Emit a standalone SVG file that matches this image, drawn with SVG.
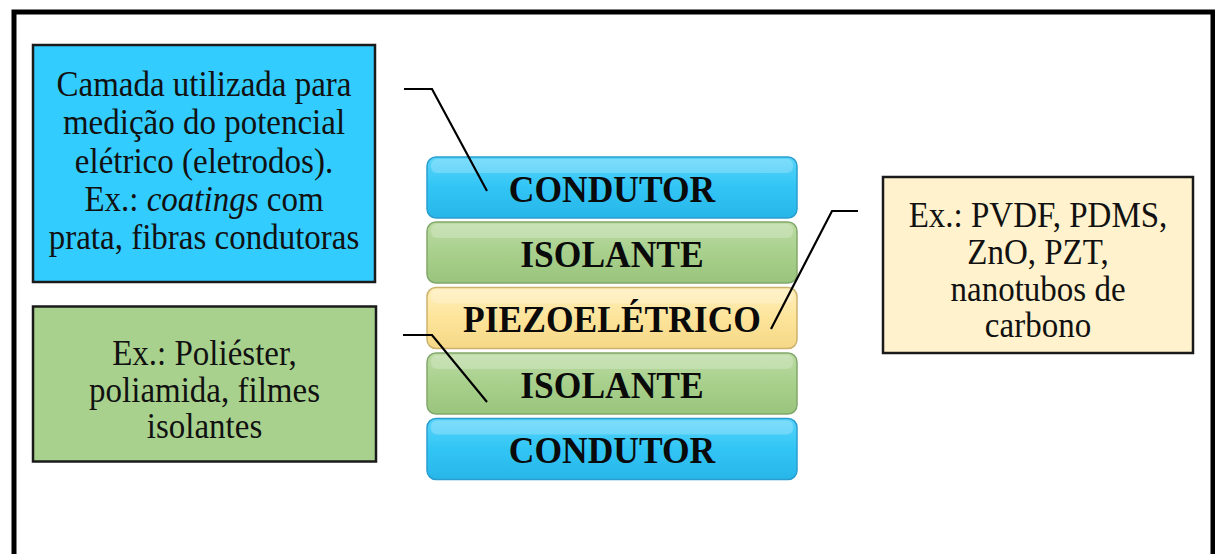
<svg xmlns="http://www.w3.org/2000/svg" width="1215" height="554" viewBox="0 0 1215 554">
<defs>
<style>
.box{stroke:#1a1a1a;stroke-width:2.5}
.t{font-family:"Liberation Serif","Times New Roman",serif;font-size:33px;fill:#111;text-anchor:middle}
.lt{font-family:"Liberation Serif","Times New Roman",serif;font-size:35.5px;font-weight:bold;fill:#0a0a0a;text-anchor:middle}
.lead{fill:none;stroke:#000;stroke-width:2.2}
.hl{fill:#fff;opacity:0.22}
</style>
<linearGradient id="gBlue" x1="0" y1="0" x2="0" y2="1">
<stop offset="0" stop-color="#5ad4fb"/>
<stop offset="0.5" stop-color="#31c5f5"/>
<stop offset="1" stop-color="#28b6e8"/>
</linearGradient>
<linearGradient id="gGreen" x1="0" y1="0" x2="0" y2="1">
<stop offset="0" stop-color="#bcdba4"/>
<stop offset="0.5" stop-color="#a8d08c"/>
<stop offset="1" stop-color="#9ac57e"/>
</linearGradient>
<linearGradient id="gYellow" x1="0" y1="0" x2="0" y2="1">
<stop offset="0" stop-color="#ffefbc"/>
<stop offset="0.5" stop-color="#fde49a"/>
<stop offset="1" stop-color="#f5d887"/>
</linearGradient>
</defs>
<rect width="1215" height="554" fill="#fff"/>
<path d="M14 560 V12 H1213 V560" fill="none" stroke="#000" stroke-width="5"/>

<g id="info-condutor">
<rect class="box" x="33" y="45" width="342" height="237" fill="#33ccff"/>
<text class="t" transform="translate(204 96) scale(1 1.06)">Camada utilizada para</text>
<text class="t" transform="translate(204 134.3) scale(1 1.06)">medição do potencial</text>
<text class="t" transform="translate(204 172.7) scale(1 1.06)">elétrico (eletrodos).</text>
<text class="t" transform="translate(204 211) scale(1 1.06)">Ex.: <tspan font-style="italic">coatings</tspan> com</text>
<text class="t" transform="translate(204 249.3) scale(1 1.06)">prata, fibras condutoras</text>
</g>

<g id="info-isolante">
<rect class="box" x="33" y="306.5" width="343" height="155" fill="#a9d18e"/>
<text class="t" transform="translate(204.5 365) scale(1 1.06)">Ex.: Poliéster,</text>
<text class="t" transform="translate(204.5 401.5) scale(1 1.06)">poliamida, filmes</text>
<text class="t" transform="translate(204.5 438) scale(1 1.06)">isolantes</text>
</g>

<g id="info-piezo">
<rect class="box" x="883" y="177" width="310" height="176" fill="#fff2cc"/>
<text class="t" transform="translate(1038 227) scale(1 1.06)">Ex.: PVDF, PDMS,</text>
<text class="t" transform="translate(1038 264) scale(1 1.06)">ZnO, PZT,</text>
<text class="t" transform="translate(1038 300.5) scale(1 1.06)">nanotubos de</text>
<text class="t" transform="translate(1038 337) scale(1 1.06)">carbono</text>
</g>

<g id="layer-condutor-top">
<rect x="427" y="157" width="370" height="61" rx="9" fill="url(#gBlue)" stroke="#2a9fcf" stroke-width="1.5"/>
<rect class="hl" x="431" y="159" width="362" height="14" rx="6"/>
<text class="lt" transform="translate(612 201.5) scale(1 1.07)">CONDUTOR</text>
</g>
<g id="layer-isolante-top">
<rect x="427" y="222" width="370" height="61" rx="9" fill="url(#gGreen)" stroke="#83a86c" stroke-width="1.5"/>
<rect class="hl" x="431" y="224" width="362" height="14" rx="6"/>
<text class="lt" transform="translate(612 266.5) scale(1 1.07)">ISOLANTE</text>
</g>
<g id="layer-piezo">
<rect x="427" y="287.5" width="370" height="61" rx="9" fill="url(#gYellow)" stroke="#cdb26c" stroke-width="1.5"/>
<rect class="hl" x="431" y="289.5" width="362" height="14" rx="6"/>
<text class="lt" transform="translate(612 332) scale(1 1.07)">PIEZOELÉTRICO</text>
</g>
<g id="layer-isolante-bottom">
<rect x="427" y="353" width="370" height="61" rx="9" fill="url(#gGreen)" stroke="#83a86c" stroke-width="1.5"/>
<rect class="hl" x="431" y="355" width="362" height="14" rx="6"/>
<text class="lt" transform="translate(612 397.5) scale(1 1.07)">ISOLANTE</text>
</g>
<g id="layer-condutor-bottom">
<rect x="427" y="418.5" width="370" height="61" rx="9" fill="url(#gBlue)" stroke="#2a9fcf" stroke-width="1.5"/>
<rect class="hl" x="431" y="420.5" width="362" height="14" rx="6"/>
<text class="lt" transform="translate(612 463) scale(1 1.07)">CONDUTOR</text>
</g>

<g id="connectors">
<path class="lead" d="M404 89 H432 L487 191"/>
<path class="lead" d="M403 335 H432 L487 402"/>
<path class="lead" d="M858 211 H832 L771 329"/>
</g>
</svg>
